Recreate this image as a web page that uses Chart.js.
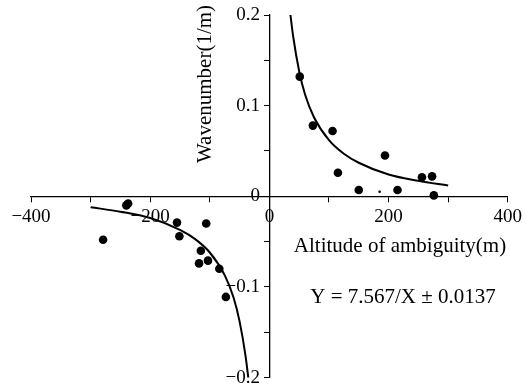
<!DOCTYPE html>
<html>
<head>
<meta charset="utf-8">
<script src="https://cdn.jsdelivr.net/npm/chart.js@4/dist/chart.umd.min.js"></script>
<style>
  html, body { margin: 0; padding: 0; background: #fff; }
  #wrap { width: 526px; height: 392px; }
</style>
</head>
<body>
<div id="wrap"><canvas id="myChart" width="526" height="392"></canvas></div>
<script>
// measured points, positive altitude side
var posX = [51, 73, 106, 115, 150, 194, 215, 256, 273, 276];
var posY = [0.132, 0.078, 0.072, 0.026, 0.007, 0.045, 0.007, 0.021, 0.022, 0.001];
// measured points, negative altitude side
var negX = [-240, -237, -279, -155, -151, -106, -115, -118, -103, -84, -73];
var negY = [-0.010, -0.008, -0.048, -0.029, -0.044, -0.030, -0.060, -0.074, -0.071, -0.080, -0.111];
// tiny dot near the x axis
var dotX = [185];
var dotY = [0.005];

// fitted curves
var fitPosX = [35, 40, 50, 60, 75, 100, 125, 150, 200, 250, 300];
var fitPosY = [0.202, 0.176, 0.138, 0.112, 0.087, 0.062, 0.047, 0.037, 0.024, 0.017, 0.012];
var fitNegX = [-300, -250, -200, -150, -125, -100, -75, -60, -50, -40, -35];
var fitNegY = [-0.012, -0.017, -0.024, -0.037, -0.047, -0.062, -0.087, -0.112, -0.138, -0.176, -0.202];

var xTickLabels = {'-400': '\u2212400', '-200': '\u2212200', '0': '0', '200': '200', '400': '400'};
var yTickLabels = {'-20': '\u22120.2', '-10': '\u22120.1', '0': '0', '10': '0.1', '20': '0.2'};

var xTitle = 'Altitude of ambiguity(m)';
var yTitle = 'Wavenumber(1/m)';
var formula = 'Y = 7.567/X \u00b1 0.0137';

var FONT = '"Liberation Serif", "Times New Roman", serif';

function pairs(xs, ys) {
    var out = [];
    for (let i in xs) {
        out.push({x: xs[i], y: ys[i]});
    }
    return out;
}

// axis titles + fit formula
var textPlugin = {
    id: 'texts',
    afterDraw: function (chart) {
        var ctx = chart.ctx;
        ctx.save();
        ctx.fillStyle = '#000';
        ctx.font = '21px ' + FONT;
        ctx.textAlign = 'center';
        ctx.textBaseline = 'middle';
        ctx.fillText(xTitle, 400, 246);
        ctx.fillText(formula, 403, 297);
        ctx.translate(205, 84);
        ctx.rotate(-Math.PI / 2);
        ctx.fillText(yTitle, 0, 0);
        ctx.restore();
    }
};

var ctx = document.getElementById('myChart').getContext('2d');
var chart = new Chart(ctx, {
    type: 'scatter',
    data: {
        datasets: [{
            data: pairs(fitPosX, fitPosY),
            showLine: true,
            borderColor: '#000',
            borderWidth: 2,
            pointRadius: 0,
            cubicInterpolationMode: 'monotone'
        }, {
            data: pairs(fitNegX, fitNegY),
            showLine: true,
            borderColor: '#000',
            borderWidth: 2,
            pointRadius: 0,
            cubicInterpolationMode: 'monotone'
        }, {
            data: pairs(posX, posY),
            backgroundColor: '#000',
            borderColor: '#000',
            pointRadius: 4.3,
            borderWidth: 0
        }, {
            data: pairs(negX, negY),
            backgroundColor: '#000',
            borderColor: '#000',
            pointRadius: 4.3,
            borderWidth: 0
        }, {
            data: pairs(dotX, dotY),
            backgroundColor: '#000',
            pointRadius: 1.3,
            borderWidth: 0
        }]
    },
    options: {
        responsive: false,
        animation: false,
        layout: { padding: { left: 31, right: 17, top: 15, bottom: 13 } },
        plugins: {
            legend: { display: false },
            tooltip: { enabled: false }
        },
        scales: {
            x: {
                type: 'linear',
                min: -400,
                max: 400,
                position: { y: 0 },
                border: { color: '#000', width: 1.3 },
                grid: { drawOnChartArea: false, color: '#000', tickLength: 5 },
                ticks: {
                    stepSize: 100,
                    autoSkip: false,
                    maxRotation: 0,
                    padding: 4,
                    color: '#000',
                    font: { family: FONT, size: 19 },
                    callback: function (v) {
                        var k = String(Math.round(v));
                        return xTickLabels[k] || '';
                    }
                }
            },
            y: {
                type: 'linear',
                min: -0.2,
                max: 0.2,
                position: { x: 0 },
                border: { color: '#000', width: 1.3 },
                grid: { drawOnChartArea: false, color: '#000', tickLength: 5 },
                ticks: {
                    stepSize: 0.05,
                    autoSkip: false,
                    color: '#000',
                    font: { family: FONT, size: 19 },
                    callback: function (v) {
                        // labels sit against the axis here, trailing spaces keep them off the ticks
                        var k = String(Math.round(v * 100));
                        return yTickLabels[k] ? yTickLabels[k] + '  ' : '';
                    }
                }
            }
        }
    },
    plugins: [textPlugin]
});
</script>
</body>
</html>
